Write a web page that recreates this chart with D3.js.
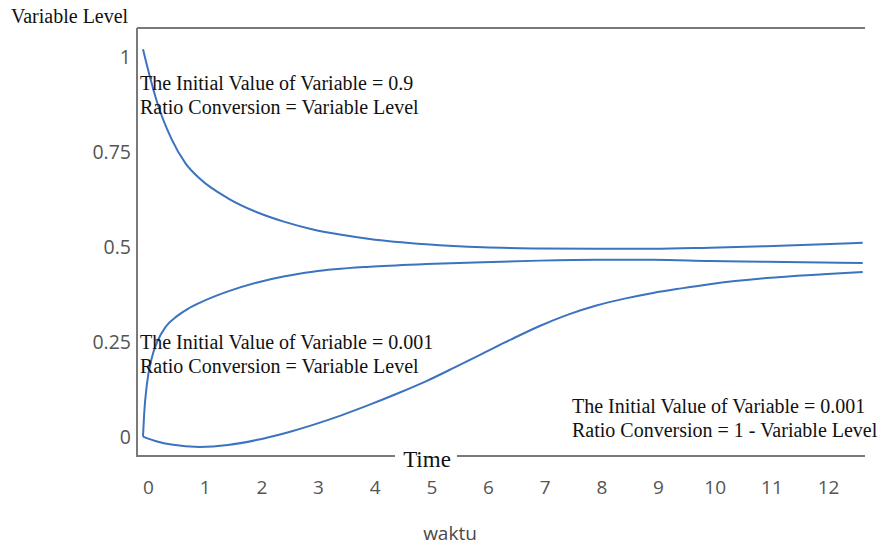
<!DOCTYPE html>
<html>
<head>
<meta charset="utf-8">
<script src="https://cdn.jsdelivr.net/npm/d3@7/dist/d3.min.js"></script>
<style>
  html, body { margin: 0; padding: 0; background: #fff; }
  svg { display: block; }
</style>
</head>
<body>
<svg id="chart" width="883" height="546"></svg>
<script>
// ---- Data ----
const xTicks = [0, 1, 2, 3, 4, 5, 6, 7, 8, 9, 10, 11, 12];
const yTicks = [0, 0.25, 0.5, 0.75, 1];
const yTickLabels = ["0", "0.25", "0.5", "0.75", "1"];

// Initial value 0.9, ratio conversion = variable level
const timeA  = [0, 0.1, 0.25, 0.5, 0.75, 1, 1.5, 2, 2.5, 3, 3.5, 4, 5, 6, 7, 8, 9, 10, 11, 12, 12.7];
const levelA = [1.02, 0.96, 0.88, 0.785, 0.72, 0.68, 0.628, 0.592, 0.566, 0.546, 0.532, 0.521, 0.507, 0.499, 0.496, 0.495, 0.495, 0.498, 0.502, 0.507, 0.511];

// Initial value 0.001, ratio conversion = variable level
const timeB  = [0, 0.02, 0.07, 0.15, 0.25, 0.4, 0.6, 0.8, 1, 1.5, 2, 2.5, 3, 4, 5, 6, 7, 8, 9, 10, 11, 12, 12.7];
const levelB = [0.001, 0.06, 0.14, 0.205, 0.25, 0.29, 0.318, 0.338, 0.353, 0.383, 0.406, 0.423, 0.435, 0.448, 0.455, 0.46, 0.464, 0.466, 0.466, 0.463, 0.461, 0.459, 0.458];

// Initial value 0.001, ratio conversion = 1 - variable level
const timeC  = [0, 0.25, 0.5, 1, 1.5, 2, 2.5, 3, 3.5, 4, 4.5, 5, 5.5, 6, 6.5, 7, 7.5, 8, 8.5, 9, 9.5, 10, 11, 12, 12.7];
const levelC = [0.001, -0.012, -0.02, -0.026, -0.021, -0.008, 0.01, 0.032, 0.057, 0.085, 0.115, 0.147, 0.183, 0.22, 0.257, 0.292, 0.322, 0.346, 0.364, 0.379, 0.391, 0.402, 0.418, 0.428, 0.434];

const annotations = [
  ["The Initial Value of Variable = 0.9", "Ratio Conversion = Variable Level"],
  ["The Initial Value of Variable = 0.001", "Ratio Conversion = Variable Level"],
  ["The Initial Value of Variable = 0.001", "Ratio Conversion = 1 - Variable Level"]
];

const yTitle = "Variable Level";
const xInnerTitle = "Time";
const xTitle = "waktu";

// ---- Layout ----
const svg = d3.select("#chart");
const pLeft = 137, pRight = 865, pTop = 28, pBottom = 456;

const x = d3.scaleLinear().domain([0, 12.74]).range([143, pRight]);
const y = d3.scaleLinear().domain([-0.05, 1.076]).range([pBottom, pTop]);

const frameColor = "#7a7a7a";
const lineColor = "#3b73c0";
const sans = "'Open Sans', 'DejaVu Sans', sans-serif";
const serif = "'Liberation Serif', 'DejaVu Serif', serif";

// frame: left, top, bottom (with gap for "Time")
svg.append("line").attr("x1", pLeft).attr("x2", pLeft).attr("y1", pTop).attr("y2", pBottom)
  .attr("stroke", frameColor).attr("stroke-width", 2);
svg.append("line").attr("x1", pLeft).attr("x2", pRight).attr("y1", pTop).attr("y2", pTop)
  .attr("stroke", frameColor).attr("stroke-width", 2);
svg.append("line").attr("x1", pLeft - 1).attr("x2", 395).attr("y1", pBottom).attr("y2", pBottom)
  .attr("stroke", frameColor).attr("stroke-width", 2);
svg.append("line").attr("x1", 457).attr("x2", pRight).attr("y1", pBottom).attr("y2", pBottom)
  .attr("stroke", frameColor).attr("stroke-width", 2);

// y axis labels
const yAxis = d3.axisLeft(y).tickValues(yTicks)
  .tickFormat((d, i) => yTickLabels[i]).tickSize(0).tickPadding(0);
const gy = svg.append("g").attr("transform", `translate(${pLeft - 6},0)`).call(yAxis);
gy.select(".domain").remove();
gy.selectAll("text")
  .attr("font-family", sans)
  .attr("font-size", 19.5).attr("fill", "#555").attr("dy", "0.35em");

// x axis labels
const xAxis = d3.axisBottom(x).tickValues(xTicks).tickFormat(d3.format("d"))
  .tickSize(0).tickPadding(0);
const gx = svg.append("g").attr("transform", `translate(5,480)`).call(xAxis);
gx.select(".domain").remove();
gx.selectAll("text")
  .attr("font-family", sans)
  .attr("font-size", 19).attr("fill", "#555").attr("dy", "0.71em");

// curves
const series = [
  d3.zip(timeA, levelA),
  d3.zip(timeB, levelB),
  d3.zip(timeC, levelC)
];
const line = d3.line().x(d => x(d[0])).y(d => y(d[1])).curve(d3.curveMonotoneX);
svg.append("g").selectAll("path").data(series).join("path")
  .attr("d", line).attr("fill", "none")
  .attr("stroke", lineColor).attr("stroke-width", 2);

// titles
svg.append("text").attr("x", 11).attr("y", 23).text(yTitle)
  .attr("font-family", serif).attr("font-size", 20).attr("fill", "#111");
svg.append("text").attr("x", 427).attr("y", 467).attr("text-anchor", "middle").text(xInnerTitle)
  .attr("font-family", serif).attr("font-size", 23).attr("fill", "#111");
svg.append("text").attr("x", 450).attr("y", 540).attr("text-anchor", "middle").text(xTitle)
  .attr("font-family", sans).attr("font-size", 19).attr("fill", "#4a4a4a");

// annotations
const annPos = [[140, 90], [140, 349], [572, 413]];
annotations.forEach((lines, i) => {
  const t = svg.append("text")
    .attr("font-family", serif)
    .attr("font-size", 20).attr("fill", "#111");
  lines.forEach((s, j) => {
    t.append("tspan").attr("x", annPos[i][0]).attr("y", annPos[i][1] + j * 23.5).text(s);
  });
});
</script>
</body>
</html>
